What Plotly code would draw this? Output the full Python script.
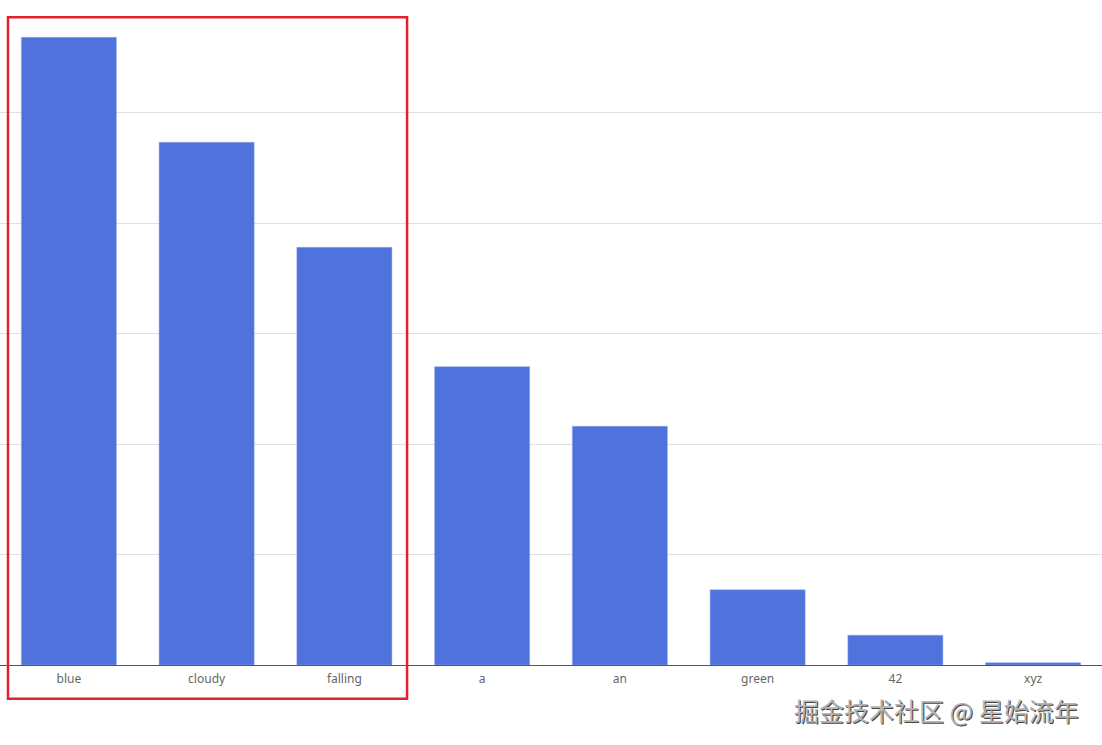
import plotly.graph_objects as go

categories = ["blue", "cloudy", "falling", "a", "an", "green", "42", "xyz"]
values = [568, 473, 378, 270, 216, 68, 27, 2]

fig = go.Figure()
fig.add_trace(go.Bar(
    x=categories, y=values,
    marker=dict(color="#5072DD", line=dict(color="#8FA5EA", width=0.5)),
    hoverinfo="x+y",
))

fig.add_shape(
    type="rect", xref="x", yref="paper",
    x0=-0.442, x1=2.455, y0=-0.051, y1=0.977,
    line=dict(color="#E0222B", width=2.5),
    layer="above",
)

fig.add_annotation(
    text="掘金技术社区 @ 星始流年",
    xref="paper", yref="paper", x=0.981, y=-0.068,
    xanchor="right", yanchor="middle", showarrow=False,
    font=dict(family="Noto Sans CJK SC", size=25, color="#b4b4b4",
              shadow="1px 1px 0px #444444, -1px -1px 0px #ffffff"),
)

fig.update_layout(
    width=1102, height=745,
    margin=dict(l=0, r=0, t=2, b=80),
    paper_bgcolor="white", plot_bgcolor="white",
    bargap=0.31,
    showlegend=False,
    font=dict(family="Noto Sans", size=12, color="#666"),
    xaxis=dict(showline=True, linecolor="#555", linewidth=1,
               ticks="", tickfont=dict(size=12, color="#666"),
               ticklabelstandoff=3, showgrid=False),
    yaxis=dict(range=[0, 600], dtick=100, showticklabels=False,
               showgrid=True, gridcolor="#e0e0e0", gridwidth=1,
               zeroline=False),
)

fig.write_html(
    "out.html",
    config={"displayModeBar": False},
    post_script="document.body.style.margin='0';document.body.style.overflow='hidden';",
)
